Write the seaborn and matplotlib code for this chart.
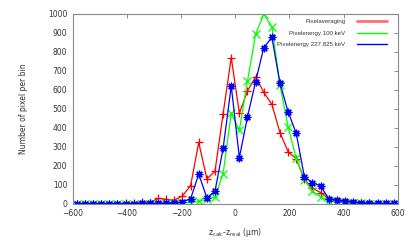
import matplotlib
matplotlib.use("Agg")
import matplotlib.pyplot as plt
from matplotlib.lines import Line2D
import seaborn as sns
import numpy as np
import pandas as pd

x_centers = [-585, -555, -525, -495, -465, -435, -405, -375, -345, -315,
             -285, -255, -225, -195, -165, -135, -105, -75, -45, -15,
             15, 45, 75, 105, 135, 165, 195, 225, 255, 285,
             315, 345, 375, 405, 435, 465, 495, 525, 555, 585]

pixelaveraging = [0, 0, 0, 0, 0, 0, 1, 2, 10, 5,
                  27, 22, 18, 40, 95, 322, 130, 170, 474, 770,
                  476, 594, 669, 587, 523, 374, 273, 235, 128, 80,
                  58, 25, 12, 8, 4, 2, 1, 0, 0, 0]

pixelenergy_100 = [0, 0, 0, 0, 0, 0, 0, 0, 0, 0,
                   0, 1, 2, 3, 5, 12, 22, 35, 158, 476,
                   388, 646, 893, 1000, 933, 625, 405, 239, 125, 65,
                   35, 15, 8, 5, 3, 1, 0, 0, 0, 0]

pixelenergy_227 = [0, 0, 0, 0, 0, 0, 0, 0, 1, 1,
                   2, 3, 5, 8, 25, 155, 30, 65, 291, 620,
                   242, 458, 643, 822, 877, 634, 484, 370, 141, 110,
                   92, 25, 20, 14, 10, 5, 3, 2, 1, 1]

labels = ["Pixelaveraging", "Pixelenergy 100 keV", "Pixelenergy 227.825 keV"]
x_ticks = [-600, -400, -200, 0, 200, 400, 600]
y_ticks = [0, 100, 200, 300, 400, 500, 600, 700, 800, 900, 1000]

sns.set_style("white")
plt.rcParams["font.family"] = ["DejaVu Sans"]

fig = plt.figure(figsize=(4.15, 2.49), dpi=100)
ax = fig.add_axes([0.1754, 0.1827, 0.7832, 0.7611])

colors = ["#ff0000", "#00ff00", "#0000ff"]
markers = ["+", "x", (8, 2, 0)]
series = [pixelaveraging, pixelenergy_100, pixelenergy_227]

for vals, c, m, lab in zip(series, colors, markers, labels):
    df = pd.DataFrame({"x": x_centers, "y": vals})
    sns.lineplot(data=df, x="x", y="y", ax=ax, color=c, marker=m,
                 markersize=5.5, markeredgewidth=0.9, markeredgecolor=c,
                 linewidth=0.9, legend=False)

ax.set_xlim(-600, 600)
ax.set_ylim(0, 1000)
ax.set_xticks(x_ticks)
ax.set_yticks(y_ticks)
ax.tick_params(direction="in", length=3, width=0.6, colors="#777777",
               labelcolor="#333333", labelsize=5.5, top=True, right=True,
               labeltop=False, labelright=False, pad=4)
for s in ax.spines.values():
    s.set_color("#888888")
    s.set_linewidth(0.8)

ax.set_xlabel(r"z$_{\rm calc}$-z$_{\rm real}$ (μm)", fontsize=5.5,
              color="#333333", labelpad=6)
ax.set_ylabel("Number of pixel per bin", fontsize=5.5, color="#333333",
              labelpad=14)

handles = [Line2D([0], [0], color="#ff7070", lw=2.0),
           Line2D([0], [0], color="#00ff00", lw=1.0),
           Line2D([0], [0], color="#0000ff", lw=1.0)]
leg = ax.legend(handles, labels, loc="upper right",
                bbox_to_anchor=(0.967, 0.975), frameon=False,
                markerfirst=False,
                prop={"family": "Liberation Sans", "size": 4.4},
                handlelength=5.0, handletextpad=1.85, labelspacing=1.05,
                borderpad=0, borderaxespad=0)
for t in leg.get_texts():
    t.set_color("#333333")

fig.savefig("out.png", dpi=100)
